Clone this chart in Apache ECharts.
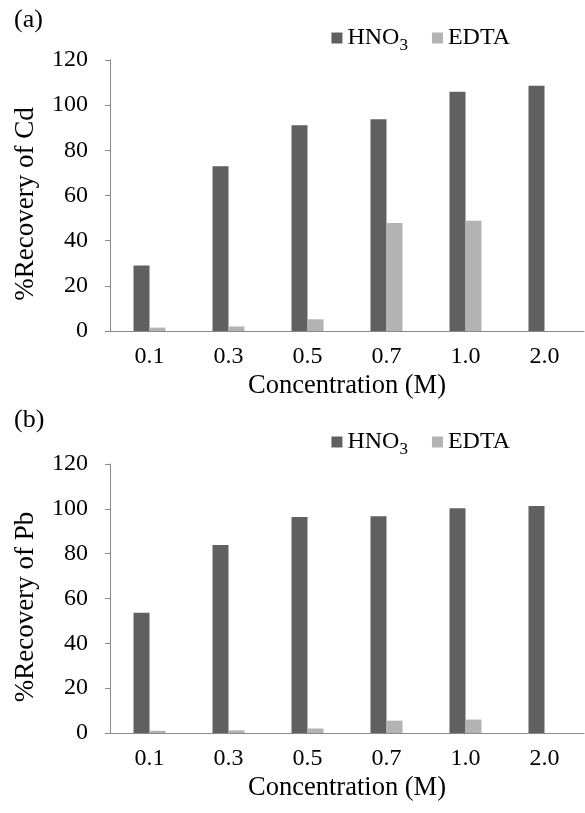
<!DOCTYPE html>
<html>
<head>
<meta charset="utf-8">
<script src="https://cdn.jsdelivr.net/npm/echarts@6/dist/echarts.min.js"></script>
<style>
  html, body { margin: 0; padding: 0; background: #fff; }
  #main { width: 585px; height: 813px; }
</style>
</head>
<body>
<div id="main"></div>
<script>
// concentrations (M)
var categories = ['0.1', '0.3', '0.5', '0.7', '1.0', '2.0'];
// panel (a) %Recovery of Cd
var cdHNO3 = [29, 72.9, 91.1, 93.8, 105.9, 108.6];
var cdEDTA = [1.5, 2, 5.2, 47.8, 48.8, null];
// panel (b) %Recovery of Pb
var pbHNO3 = [53.6, 83.9, 96.4, 96.7, 100.3, 101.3];
var pbEDTA = [1, 1.2, 2, 5.5, 6, null];

var font = '"Liberation Serif", "Times New Roman", serif';
var axisGray = '#898989';
var colHNO3 = '#606060';
var colEDTA = '#b3b3b3';

function xAx(idx) {
  return {
    type: 'category', gridIndex: idx, data: categories,
    name: 'Concentration (M)', nameLocation: 'middle', nameGap: 42,
    nameTextStyle: { fontFamily: font, fontSize: 26.5, color: '#000' },
    axisLine: { lineStyle: { color: axisGray, width: 1 } },
    axisTick: { length: 5, lineStyle: { color: axisGray } },
    axisLabel: { fontFamily: font, fontSize: 24, color: '#000', margin: 14 }
  };
}
function yAx(idx, title) {
  return {
    type: 'value', gridIndex: idx, min: 0, max: 120, interval: 20,
    name: title, nameLocation: 'middle', nameGap: 71,
    // extra right padding pushes the rotated title a little lower, like the original
    nameTextStyle: { fontFamily: font, fontSize: 27, color: '#000', padding: [0, 17, 0, 0] },
    axisLine: { show: true, lineStyle: { color: axisGray, width: 1 } },
    axisTick: { show: true, length: 5, lineStyle: { color: axisGray } },
    axisLabel: { fontFamily: font, fontSize: 24, color: '#000', margin: 22 },
    splitLine: { show: false }
  };
}
function bars(name, data, idx, color) {
  return {
    name: name, type: 'bar', data: data, xAxisIndex: idx, yAxisIndex: idx,
    barWidth: 16, barGap: '0%', itemStyle: { color: color }
  };
}
function legendAt(top) {
  return {
    top: top, right: 70, itemWidth: 11, itemHeight: 11, itemGap: 24,
    icon: 'rect',
    data: ['HNO3', 'EDTA'],
    formatter: function (n) {
      return n === 'HNO3' ? '{m|HNO}{s|3}' : '{m|' + n + '}';
    },
    textStyle: {
      rich: {
        m: { fontFamily: font, fontSize: 24, color: '#000' },
        s: { fontFamily: font, fontSize: 17, color: '#000', verticalAlign: 'bottom', padding: [15, 0, 0, 0] }
      }
    }
  };
}

var chart = echarts.init(document.getElementById('main'));
chart.setOption({
  animation: false,
  title: [
    { text: '(a)', left: 9, top: 2, textStyle: { fontFamily: font, fontSize: 26, fontWeight: 'normal', color: '#000' } },
    { text: '(b)', left: 9, top: 402, textStyle: { fontFamily: font, fontSize: 26, fontWeight: 'normal', color: '#000' } }
  ],
  legend: [legendAt(21), legendAt(425)],
  grid: [
    { left: 110, right: 1, top: 60, height: 271 },
    { left: 110, right: 1, top: 464, height: 269 }
  ],
  xAxis: [xAx(0), xAx(1)],
  yAxis: [yAx(0, '%Recovery of Cd'), yAx(1, '%Recovery of Pb')],
  series: [
    bars('HNO3', cdHNO3, 0, colHNO3),
    bars('EDTA', cdEDTA, 0, colEDTA),
    bars('HNO3', pbHNO3, 1, colHNO3),
    bars('EDTA', pbEDTA, 1, colEDTA)
  ]
});
</script>
</body>
</html>
